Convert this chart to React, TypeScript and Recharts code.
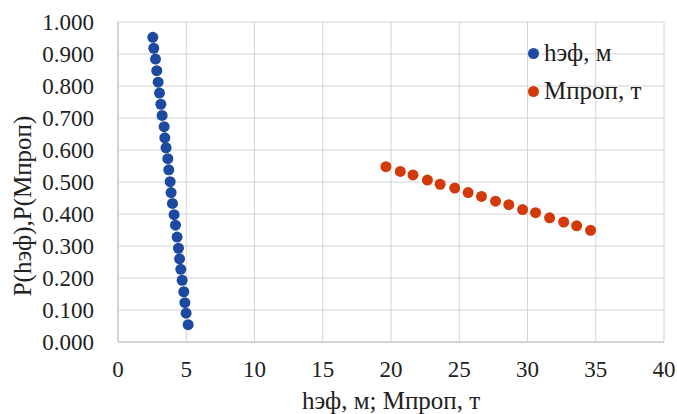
import { CartesianGrid, Label, Scatter, ScatterChart, XAxis, YAxis } from 'recharts'

// h эф, м — probability points
const hefX = [2.55, 2.62, 2.75, 2.84, 2.94, 3.04, 3.14, 3.23, 3.38, 3.43, 3.52, 3.65, 3.72, 3.82, 3.89, 3.99, 4.11, 4.21, 4.33, 4.43, 4.51, 4.6, 4.7, 4.82, 4.9, 4.99, 5.14]
const hefP = [0.952, 0.918, 0.884, 0.848, 0.812, 0.778, 0.743, 0.708, 0.673, 0.638, 0.607, 0.573, 0.538, 0.501, 0.467, 0.433, 0.398, 0.365, 0.328, 0.293, 0.26, 0.227, 0.193, 0.157, 0.123, 0.09, 0.054]

// М проп, т
const mpropX = [19.63, 20.68, 21.61, 22.67, 23.6, 24.67, 25.65, 26.63, 27.66, 28.63, 29.64, 30.59, 31.62, 32.65, 33.6, 34.62]
const mpropP = [0.548, 0.533, 0.522, 0.506, 0.493, 0.481, 0.467, 0.455, 0.44, 0.429, 0.414, 0.404, 0.388, 0.375, 0.363, 0.349]

const xTicks = [0, 5, 10, 15, 20, 25, 30, 35, 40]
const yTicks = [0, 0.1, 0.2, 0.3, 0.4, 0.5, 0.6, 0.7, 0.8, 0.9, 1.0]

const BLUE = '#1c4aa0'
const RED = '#d23a0c'
const FONT = 'Liberation Serif, DejaVu Serif, serif'
const TEXT = '#222'

const hefData = hefX.map((x, i) => ({ x, y: hefP[i] }))
const mpropData = mpropX.map((x, i) => ({ x, y: mpropP[i] }))

const dot = (color: string) => (props: any) => (
  <circle cx={props.cx} cy={props.cy} r={5.5} fill={color} />
)

const legendItems = [
  { name: 'hэф, м', color: BLUE },
  { name: 'Мпроп, т', color: RED },
]

function LegendBox() {
  return (
    <div style={{ position: 'absolute', left: 528, top: 34, fontFamily: FONT, fontSize: 25, color: TEXT, lineHeight: '38px' }}>
      {legendItems.map((it) => (
        <div key={it.name} style={{ display: 'flex', alignItems: 'center' }}>
          <span style={{ width: 11, height: 11, borderRadius: '50%', background: it.color, marginRight: 5, display: 'inline-block' }} />
          <span>{it.name}</span>
        </div>
      ))}
    </div>
  )
}

const tickStyle = { fontFamily: FONT, fontSize: 23, fill: TEXT }
const titleStyle = { fontFamily: FONT, fontSize: 25, fill: TEXT }

export default function App() {
  return (
    <div style={{ position: 'absolute', left: 0, top: 0, width: 677, height: 414, background: '#fff' }}>
      <ScatterChart width={677} height={414} margin={{ top: 22, right: 13, bottom: 12, left: 0 }}>
        <CartesianGrid stroke="#d4d4d4" />
        <XAxis
          type="number"
          dataKey="x"
          domain={[0, 40]}
          ticks={xTicks}
          height={60}
          tickLine={false}
          tickSize={0}
          tickMargin={19}
          axisLine={{ stroke: '#bfbfbf' }}
          tick={tickStyle}
        >
          <Label
            content={({ viewBox }: any) => (
              <text x={viewBox.x + viewBox.width / 2} y={400} textAnchor="middle" dominantBaseline="central" style={titleStyle}>
                hэф, м; Мпроп, т
              </text>
            )}
          />
        </XAxis>
        <YAxis
          type="number"
          dataKey="y"
          domain={[0, 1]}
          ticks={yTicks}
          width={118}
          tickLine={false}
          tickSize={0}
          tickMargin={24}
          axisLine={{ stroke: '#bfbfbf' }}
          tickFormatter={(v: number) => v.toFixed(3)}
          tick={tickStyle}
        >
          <Label
            content={({ viewBox }: any) => {
              const cy = viewBox.y + viewBox.height / 2 + 24
              return (
                <text x={22} y={cy} transform={`rotate(-90 22 ${cy})`} textAnchor="middle" dominantBaseline="central" style={titleStyle}>
                  P(hэф),P(Мпроп)
                </text>
              )
            }}
          />
        </YAxis>
        <Scatter name="hэф, м" data={hefData} fill={BLUE} shape={dot(BLUE)} isAnimationActive={false} />
        <Scatter name="Мпроп, т" data={mpropData} fill={RED} shape={dot(RED)} isAnimationActive={false} />
      </ScatterChart>
      <LegendBox />
    </div>
  )
}
